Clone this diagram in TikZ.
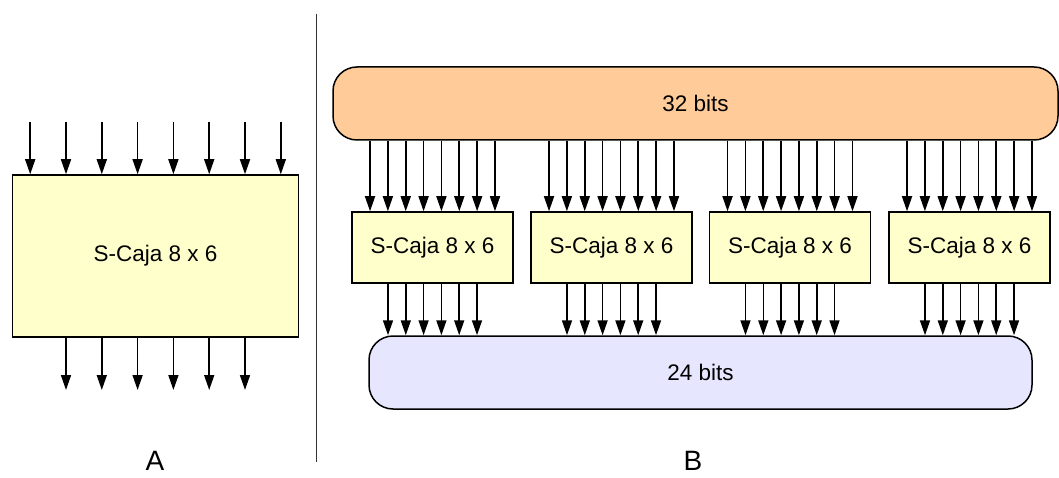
\documentclass[tikz,border=0pt]{standalone}
\usepackage{fontspec}
\setmainfont{Liberation Sans}
\usetikzlibrary{arrows.meta,positioning}
\definecolor{cajafill}{HTML}{FFFFCC}
\definecolor{topfill}{HTML}{FFCC99}
\definecolor{botfill}{HTML}{E6E6FF}
\begin{document}
\begin{tikzpicture}[x=1pt,y=-1pt,
    caja/.style={draw, line width=1.5pt, fill=cajafill, font=\fontsize{22.5}{27}\selectfont},
    bus/.style={draw, line width=1.5pt, rounded corners=24pt, minimum height=73pt, font=\fontsize{22.5}{27}\selectfont},
    arr/.style={line width=1.6pt, -{Triangle[length=15pt,width=10pt]}},
    lbl/.style={font=\fontsize{28}{32}\selectfont, inner sep=0pt, anchor=base}]
  \useasboundingbox (0,0) rectangle (1059,478);
  % A
  \node[caja, minimum width=286pt, minimum height=162pt] (sa) at (155.5,256) {S-Caja 8 x 6};
  \foreach \i in {0,...,7}{
    \coordinate (ina\i) at ({155.5+(\i-3.5)*35.8},122);
    \draw[arr] (ina\i) -- (ina\i |- sa.north);
  }
  \foreach \i in {0,...,5}{
    \coordinate (outa\i) at ({155.5+(\i-2.5)*35.8},390);
    \draw[arr] (outa\i |- sa.south) -- (outa\i);
  }
  \node[lbl] (la) at (155,470) {A};
  % divider
  \coordinate (d1) at (316,14);
  \coordinate (d2) at (316,462);
  \draw[line width=1pt, black!80] (d1) -- (d2);
  % B
  \node[bus, fill=topfill, minimum width=725pt] (b32) at (695.5,103.5) {32 bits};
  \node[bus, fill=botfill, minimum width=663pt] (b24) at (700.5,372.5) {24 bits};
  \foreach \k/\cx in {1/432.5,2/611.5,3/790,4/969.5}{
    \node[caja, minimum width=161pt, minimum height=71pt] (sb\k) at (\cx,247.5) {S-Caja 8 x 6};
    \foreach \i in {0,...,7}
      \draw[arr] ([xshift={(\i-3.5)*17.85pt}]sb\k.north |- b32.south) -- ([xshift={(\i-3.5)*17.85pt}]sb\k.north);
    \foreach \i in {0,...,5}
      \draw[arr] ([xshift={(\i-2.5)*17.8pt}]sb\k.south) -- ([xshift={(\i-2.5)*17.8pt}]sb\k.south |- b24.north);
  }
  \node[lbl] (lb) at (693,470) {B};
\end{tikzpicture}
\end{document}
